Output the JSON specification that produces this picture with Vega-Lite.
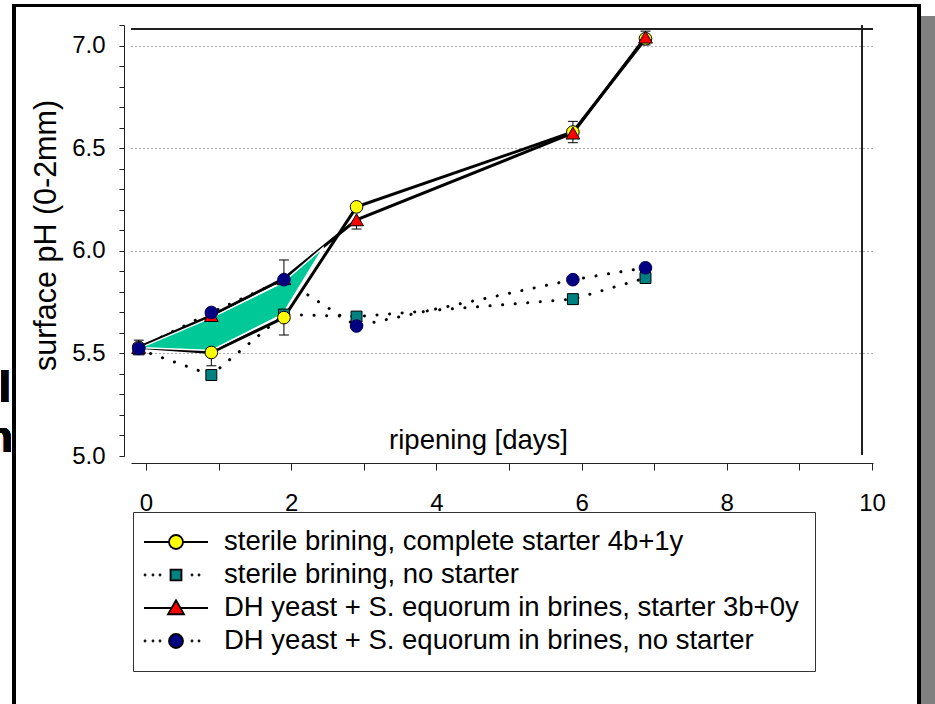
{
  "$schema": "https://vega.github.io/schema/vega-lite/v6.json",
  "width": 742,
  "height": 431,
  "autosize": {"type": "none"},
  "padding": {"left": 131, "top": 25, "right": 62, "bottom": 248},
  "background": "white",
  "config": {
    "font": "Liberation Sans",
    "view": {"stroke": null},
    "axis": {"labelFont": "Liberation Sans", "titleFont": "Liberation Sans", "labelColor": "black", "titleColor": "black", "titleFontWeight": "normal", "domainColor": "#222", "tickColor": "#222"}
  },
  "datasets": {
    "main": [
      {"day": -0.1, "ph": 5.53, "series": "sterile brining, complete starter 4b+1y"},
      {"day": 0.9, "ph": 5.505, "series": "sterile brining, complete starter 4b+1y"},
      {"day": 1.9, "ph": 5.675, "series": "sterile brining, complete starter 4b+1y"},
      {"day": 2.9, "ph": 6.215, "series": "sterile brining, complete starter 4b+1y"},
      {"day": 5.88, "ph": 6.58, "series": "sterile brining, complete starter 4b+1y"},
      {"day": 6.88, "ph": 7.035, "series": "sterile brining, complete starter 4b+1y"},
      {"day": -0.1, "ph": 5.52, "series": "sterile brining, no starter"},
      {"day": 0.9, "ph": 5.395, "series": "sterile brining, no starter"},
      {"day": 1.9, "ph": 5.69, "series": "sterile brining, no starter"},
      {"day": 2.9, "ph": 5.68, "series": "sterile brining, no starter"},
      {"day": 5.88, "ph": 5.765, "series": "sterile brining, no starter"},
      {"day": 6.88, "ph": 5.868, "series": "sterile brining, no starter"},
      {"day": -0.1, "ph": 5.53, "series": "DH yeast + S. equorum in brines, starter 3b+0y"},
      {"day": 0.9, "ph": 5.685, "series": "DH yeast + S. equorum in brines, starter 3b+0y"},
      {"day": 1.9, "ph": 5.865, "series": "DH yeast + S. equorum in brines, starter 3b+0y"},
      {"day": 2.9, "ph": 6.152, "series": "DH yeast + S. equorum in brines, starter 3b+0y"},
      {"day": 5.88, "ph": 6.575, "series": "DH yeast + S. equorum in brines, starter 3b+0y"},
      {"day": 6.88, "ph": 7.043, "series": "DH yeast + S. equorum in brines, starter 3b+0y"},
      {"day": -0.1, "ph": 5.525, "series": "DH yeast + S. equorum in brines, no starter"},
      {"day": 0.9, "ph": 5.7, "series": "DH yeast + S. equorum in brines, no starter"},
      {"day": 1.9, "ph": 5.86, "series": "DH yeast + S. equorum in brines, no starter"},
      {"day": 2.9, "ph": 5.634, "series": "DH yeast + S. equorum in brines, no starter"},
      {"day": 5.88, "ph": 5.86, "series": "DH yeast + S. equorum in brines, no starter"},
      {"day": 6.88, "ph": 5.918, "series": "DH yeast + S. equorum in brines, no starter"}
    ],
    "err": [
      {"day": -0.1, "ph": 5.53, "cap": 5.565},
      {"day": 0.9, "ph": 5.505, "cap": 5.44},
      {"day": 1.9, "ph": 5.675, "cap": 5.59},
      {"day": 1.9, "ph": 5.865, "cap": 5.956},
      {"day": 2.9, "ph": 6.152, "cap": 6.107},
      {"day": 5.88, "ph": 6.58, "cap": 6.632},
      {"day": 5.88, "ph": 6.575, "cap": 6.528},
      {"day": 6.88, "ph": 7.04, "cap": 7.072},
      {"day": 6.88, "ph": 7.04, "cap": 7.005}
    ],
    "shade": [
      {"day": -0.05, "lo": 5.528, "hi": 5.532},
      {"day": 0.9, "lo": 5.515, "hi": 5.675},
      {"day": 1.88, "lo": 5.69, "hi": 5.845},
      {"day": 2.44, "lo": 6.014, "hi": 6.016}
    ]
  },
  "data": {"name": "main"},
  "layer": [
    {
      "mark": {"type": "rect", "fill": "#808080", "clip": false},
      "encoding": {
        "x": {"datum": 10.675, "type": "quantitative", "scale": {"domain": [-0.2066, 10.014], "nice": false, "zero": false},
          "axis": {"values": [0,1,2,3,4,5,6,7,8,9,10], "tickCount": 40, "format": "d", "labelExpr": "round(datum.value) % 2 === 0 ? format(datum.value, 'd') : ''", "offset": 7, "tickSize": 7, "labelFontSize": 24, "labelPadding": 21, "labelFlush": false, "labelOverlap": false, "labelBound": false, "grid": false, "title": "ripening [days]", "titleFontSize": 27.5, "titleX": 347, "titleY": -15, "titleBaseline": "alphabetic", "titleAlign": "center"}},
        "x2": {"datum": 10.95},
        "y": {"datum": 7.146, "type": "quantitative", "scale": {"domain": [5.0, 7.102], "nice": false, "zero": false},
          "axis": {"values": [5.0,5.1,5.2,5.3,5.4,5.5,5.6,5.7,5.8,5.9,6.0,6.1,6.2,6.3,6.4,6.5,6.6,6.7,6.8,6.9,7.0,7.1],
            "tickCount": 40,
            "format": ".1f",
            "labelExpr": "round(datum.value*10) % 5 === 0 ? format(datum.value, '.1f') : ''",
            "offset": 7, "tickSize": 5, "labelFontSize": 24, "labelPadding": 14, "labelOverlap": false, "labelBound": false,
            "grid": true, "gridDash": [1, 3], "gridColor": "#555", "gridWidth": 1,
            "gridOpacity": {"condition": {"test": "round(datum.value*10) % 5 === 0 && datum.value > 5.01 && datum.value < 7.05", "value": 1}, "value": 0},
            "title": "surface pH (0-2mm)", "titleFontSize": 30.5, "titleX": -78, "titleY": 210, "titleAngle": -90, "titleBaseline": "middle", "titleAlign": "center"}},
        "y2": {"datum": 3.6}
      }
    },
    {
      "mark": {"type": "rect", "filled": false, "stroke": "black", "strokeWidth": 3, "clip": false},
      "encoding": {
        "x": {"datum": -1.818, "type": "quantitative"},
        "x2": {"datum": 10.647},
        "y": {"datum": 7.197, "type": "quantitative"},
        "y2": {"datum": 3.6}
      }
    },
    {
      "mark": {"type": "text", "align": "right", "baseline": "alphabetic", "fontSize": 44, "fontWeight": "bold", "font": "Liberation Sans", "color": "black"},
      "encoding": {
        "x": {"datum": -1.86, "type": "quantitative"},
        "y": {"datum": 5.263, "type": "quantitative"},
        "text": {"value": "l"}
      }
    },
    {
      "mark": {"type": "text", "align": "right", "baseline": "alphabetic", "fontSize": 44, "fontWeight": "bold", "font": "Liberation Sans", "color": "black"},
      "encoding": {
        "x": {"datum": -1.832, "type": "quantitative"},
        "y": {"datum": 5.019, "type": "quantitative"},
        "text": {"value": "n"}
      }
    },
    {
      "mark": {"type": "rule", "color": "#222", "strokeWidth": 1.5},
      "encoding": {"y": {"datum": 7.083, "type": "quantitative"}}
    },
    {
      "mark": {"type": "rule", "color": "#222", "strokeWidth": 1},
      "encoding": {
        "x": {"datum": 9.862, "type": "quantitative"},
        "y": {"datum": 5.005, "type": "quantitative"},
        "y2": {"datum": 7.102}
      }
    },
    {
      "transform": [{"filter": "indexof(datum.series, 'no starter') < 0"}],
      "mark": {"type": "line", "color": "black", "strokeWidth": 3},
      "encoding": {
        "x": {"field": "day", "type": "quantitative"},
        "y": {"field": "ph", "type": "quantitative"},
        "detail": {"field": "series"}
      }
    },
    {
      "transform": [{"filter": "indexof(datum.series, 'no starter') >= 0"}],
      "mark": {"type": "line", "color": "black", "strokeWidth": 3, "strokeDash": [0.1, 12.5], "strokeCap": "round"},
      "encoding": {
        "x": {"field": "day", "type": "quantitative"},
        "y": {"field": "ph", "type": "quantitative"},
        "detail": {"field": "series"}
      }
    },
    {
      "data": {"name": "shade"},
      "mark": {"type": "area", "color": "#00C896", "stroke": "white", "strokeWidth": 1.5, "opacity": 1},
      "encoding": {
        "x": {"field": "day", "type": "quantitative"},
        "y": {"field": "lo", "type": "quantitative"},
        "y2": {"field": "hi"}
      }
    },
    {
      "data": {"name": "err"},
      "mark": {"type": "rule", "color": "black", "strokeWidth": 1},
      "encoding": {
        "x": {"field": "day", "type": "quantitative"},
        "y": {"field": "ph", "type": "quantitative"},
        "y2": {"field": "cap"}
      }
    },
    {
      "data": {"name": "err"},
      "mark": {"type": "point", "shape": "M-1,0H1", "size": 100, "filled": false, "stroke": "black", "strokeWidth": 1, "opacity": 1},
      "encoding": {
        "x": {"field": "day", "type": "quantitative"},
        "y": {"field": "cap", "type": "quantitative"}
      }
    },
    {
      "transform": [{"filter": "datum.series === 'sterile brining, no starter'"}],
      "mark": {"type": "point", "shape": "square", "size": 120, "filled": true, "fill": "#008080", "stroke": "black", "strokeWidth": 1, "opacity": 1},
      "encoding": {"x": {"field": "day", "type": "quantitative"}, "y": {"field": "ph", "type": "quantitative"}}
    },
    {
      "transform": [{"filter": "datum.series === 'sterile brining, complete starter 4b+1y'"}],
      "mark": {"type": "point", "shape": "circle", "size": 160, "filled": true, "fill": "#FFFF00", "stroke": "black", "strokeWidth": 1, "opacity": 1},
      "encoding": {"x": {"field": "day", "type": "quantitative"}, "y": {"field": "ph", "type": "quantitative"}}
    },
    {
      "transform": [{"filter": "datum.series === 'DH yeast + S. equorum in brines, starter 3b+0y'"}],
      "mark": {"type": "point", "shape": "triangle-up", "size": 190, "filled": true, "fill": "#FF0000", "stroke": "black", "strokeWidth": 1, "opacity": 1},
      "encoding": {"x": {"field": "day", "type": "quantitative"}, "y": {"field": "ph", "type": "quantitative"}}
    },
    {
      "transform": [{"filter": "datum.series === 'DH yeast + S. equorum in brines, no starter'"}],
      "mark": {"type": "point", "shape": "circle", "size": 160, "filled": true, "fill": "#000080", "stroke": "#000060", "strokeWidth": 1, "opacity": 1},
      "encoding": {"x": {"field": "day", "type": "quantitative"}, "y": {"field": "ph", "type": "quantitative"}}
    },
    {
      "transform": [{"filter": "false"}],
      "mark": {"type": "point", "filled": true, "stroke": "black", "strokeWidth": 1.8, "opacity": 1},
      "encoding": {
        "x": {"field": "day", "type": "quantitative"},
        "y": {"field": "ph", "type": "quantitative"},
        "fill": {"field": "series", "type": "nominal",
          "scale": {"domain": ["sterile brining, complete starter 4b+1y", "sterile brining, no starter", "DH yeast + S. equorum in brines, starter 3b+0y", "DH yeast + S. equorum in brines, no starter"],
            "range": ["#FFFF00", "#008080", "#FF0000", "#000080"]},
          "legend": {"title": null, "orient": "none", "legendX": 2, "legendY": 487, "padding": 16, "symbolSize": 676, "symbolStrokeWidth": 1.8, "labelFontSize": 27.5, "labelFont": "Liberation Sans", "labelColor": "black", "labelLimit": 900, "labelOffset": 47, "rowPadding": 5, "strokeColor": "#333", "fillColor": "white", "symbolOpacity": 1,
            "encode": {"symbols": {"stroke": {"value": "black"}, "strokeWidth": {"value": 1.8}}}}},
        "shape": {"field": "series", "type": "nominal",
          "scale": {"domain": ["sterile brining, complete starter 4b+1y", "sterile brining, no starter", "DH yeast + S. equorum in brines, starter 3b+0y", "DH yeast + S. equorum in brines, no starter"],
            "range": [
              "M-1.46,0H0.46M1.54,0H3.46M1.54,0A0.54,0.54 0 1,1 0.46,0A0.54,0.54 0 1,1 1.54,0Z",
              "M-1.42,0a0.04,0.04 0 1,0 0.08,0a0.04,0.04 0 1,0 -0.08,0ZM-0.81,0a0.04,0.04 0 1,0 0.08,0a0.04,0.04 0 1,0 -0.08,0ZM-0.27,0a0.04,0.04 0 1,0 0.08,0a0.04,0.04 0 1,0 -0.08,0ZM2.19,0a0.04,0.04 0 1,0 0.08,0a0.04,0.04 0 1,0 -0.08,0ZM2.73,0a0.04,0.04 0 1,0 0.08,0a0.04,0.04 0 1,0 -0.08,0ZM0.58,-0.42H1.42V0.42H0.58Z",
              "M-1.46,0H0.66M1.34,0H3.46M1,-0.6L1.62,0.48L0.38,0.48Z",
              "M-1.42,0a0.04,0.04 0 1,0 0.08,0a0.04,0.04 0 1,0 -0.08,0ZM-0.81,0a0.04,0.04 0 1,0 0.08,0a0.04,0.04 0 1,0 -0.08,0ZM-0.27,0a0.04,0.04 0 1,0 0.08,0a0.04,0.04 0 1,0 -0.08,0ZM2.19,0a0.04,0.04 0 1,0 0.08,0a0.04,0.04 0 1,0 -0.08,0ZM2.73,0a0.04,0.04 0 1,0 0.08,0a0.04,0.04 0 1,0 -0.08,0ZM1.54,0A0.54,0.54 0 1,1 0.46,0A0.54,0.54 0 1,1 1.54,0Z"
            ]},
          "legend": {"title": null, "orient": "none", "legendX": 2, "legendY": 487, "padding": 16, "symbolSize": 676, "symbolStrokeWidth": 1.8, "labelFontSize": 27.5, "labelFont": "Liberation Sans", "labelColor": "black", "labelLimit": 900, "labelOffset": 47, "rowPadding": 5, "strokeColor": "#333", "fillColor": "white", "symbolOpacity": 1,
            "encode": {"symbols": {"stroke": {"value": "black"}, "strokeWidth": {"value": 1.8}}}}}
      }
    }
  ]
}
